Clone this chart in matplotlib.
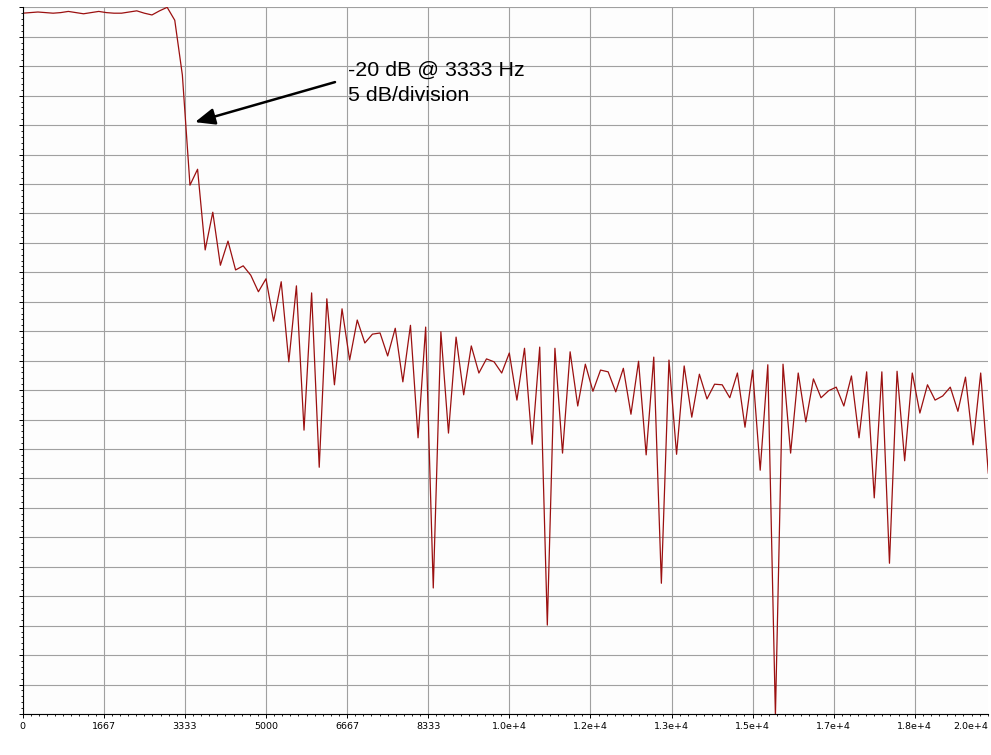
import matplotlib
matplotlib.use("Agg")
import matplotlib.pyplot as plt
import matplotlib.transforms as mtransforms
import numpy as np

# magnitude of each FFT bin, dB (156.25 Hz per bin)
bin_hz = 156.25
level_db = [
    -1.0, -0.9, -0.8, -0.9, -1.0, -0.9, -0.7, -0.9, -1.1, -0.9,
    -0.7, -0.9, -1.0, -1.0, -0.8, -0.6, -1.0, -1.3, -0.6, 0.0,
    -2.2, -11.5, -30.2, -27.5, -41.2, -34.8, -43.8, -39.7, -44.6, -43.9,
    -45.5, -48.3, -46.1, -53.3, -46.6, -60.2, -47.3, -71.8, -48.5, -78.1,
    -49.5, -64.1, -51.2, -59.9, -53.1, -57.0, -55.5, -55.3, -59.2, -54.5,
    -63.6, -54.0, -73.1, -54.3, -98.6, -55.1, -72.3, -56.0, -65.8, -57.5,
    -62.1, -59.7, -60.2, -62.1, -58.7, -66.7, -57.9, -74.2, -57.7, -104.9,
    -57.9, -75.7, -58.5, -67.7, -60.6, -65.2, -61.6, -61.9, -65.3, -61.3,
    -69.1, -60.1, -76.0, -59.4, -97.8, -59.9, -75.9, -60.9, -69.6, -62.3,
    -66.5, -64.0, -64.1, -66.3, -62.1, -71.3, -61.6, -78.6, -60.7, -120.3,
    -60.6, -75.7, -62.1, -70.4, -63.1, -66.3, -65.1, -64.5, -67.7, -62.6,
    -73.1, -61.9, -83.3, -61.9, -94.4, -61.8, -77.0, -62.1, -68.9, -64.1,
    -66.7, -66.0, -64.5, -68.6, -62.8, -74.3, -62.1, -79.1,
]
freq = np.arange(len(level_db)) * bin_hz

tick_step = 20000 / 12
tick_labels = ["0", "1667", "3333", "5000", "6667", "8333", "1.0e+4",
               "1.2e+4", "1.3e+4", "1.5e+4", "1.7e+4", "1.8e+4"]
last_label = "2.0e+4"

note_lines = ["-20 dB @ 3333 Hz", "5 dB/division"]

fig = plt.figure(figsize=(9.91, 7.55), dpi=100)
ax = fig.add_axes([22.7 / 991, 41 / 755, 965.6 / 991, 706.7 / 755])
ax.set_facecolor("#fdfdfd")
fig.patch.set_facecolor("white")

ax.plot(freq, level_db, color="#9b1010", lw=0.9)

ax.set_xlim(0, freq[-1])
ax.set_ylim(-120, 0)

ax.set_xticks(np.arange(12) * tick_step)
ax.set_xticklabels(tick_labels)
ax.set_xticks(np.arange(0, freq[-1], tick_step / 10), minor=True)
ax.set_yticks(np.arange(-120, 1, 5))
ax.set_yticks(np.arange(-120, 1, 1), minor=True)
ax.set_yticklabels([])

ax.tick_params(axis="x", which="major", length=3, width=0.7, pad=2.5,
               labelsize=6.8, direction="out")
ax.tick_params(axis="x", which="minor", length=1.6, width=0.6, direction="out")
ax.tick_params(axis="y", which="major", length=3, width=0.7, direction="out")
ax.tick_params(axis="y", which="minor", length=1.8, width=0.6, direction="out")

ax.grid(True, which="major", color="#a0a0a0", lw=0.8)
ax.set_axisbelow(True)
for side in ["top", "right"]:
    ax.spines[side].set_visible(False)
for side in ["left", "bottom"]:
    ax.spines[side].set_color("black")
    ax.spines[side].set_linewidth(0.8)

# the last x label sits at the right end of the axis
trans = mtransforms.blended_transform_factory(ax.transData, ax.transAxes)
shift = mtransforms.ScaledTranslation(0, -5.5 / 72, fig.dpi_scale_trans)
ax.text(freq[-1], 0, last_label, transform=trans + shift, ha="right", va="top",
        fontsize=6.8, color="black")

# arrow and note
ax.annotate("", xy=(3541, -19.5), xytext=(6418, -12.7),
            arrowprops=dict(arrowstyle="-|>,head_length=1.2,head_width=0.5",
                            color="black", lw=1.8, shrinkA=0, shrinkB=0))
ax.text(6685, -10.65, note_lines[0], fontsize=15.4, family="Liberation Sans",
        ha="left", va="center")
ax.text(6685, -15.05, note_lines[1], fontsize=15.4, family="Liberation Sans",
        ha="left", va="center")

fig.savefig("out.png", dpi=100)
